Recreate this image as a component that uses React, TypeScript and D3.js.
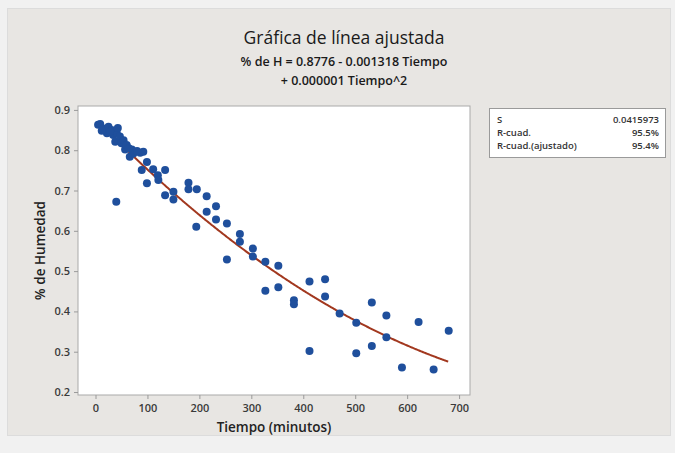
import React, { useEffect, useRef } from 'react';
import * as d3 from 'd3';

// Tiempo (minutos) and % de Humedad
const tiempo = [
  5, 9, 15, 22, 25, 31, 34, 38, 41, 43, 47, 50, 54, 57, 60, 66, 70, 73, 86, 92,
  99, 89, 111, 120, 134, 99, 121, 40, 134, 150, 150, 179, 179, 195, 194, 214,
  214, 232, 232, 253, 253, 278, 278, 303, 303, 327, 327, 352, 352, 382, 382,
  412, 412, 442, 442, 470, 502, 502, 532, 532, 560, 560, 590, 622, 651, 680,
  12, 28, 64, 80,
];
const humedad = [
  0.863, 0.865, 0.854, 0.842, 0.858, 0.85, 0.838, 0.821, 0.843, 0.855, 0.834,
  0.817, 0.825, 0.802, 0.813, 0.784, 0.802, 0.792, 0.794, 0.796, 0.771, 0.751,
  0.753, 0.738, 0.751, 0.718, 0.726, 0.672, 0.688, 0.697, 0.678, 0.719, 0.703,
  0.703, 0.61, 0.686, 0.647, 0.661, 0.628, 0.618, 0.529, 0.592, 0.573, 0.556,
  0.536, 0.523, 0.451, 0.513, 0.46, 0.428, 0.418, 0.474, 0.302, 0.48, 0.437,
  0.395, 0.372, 0.296, 0.422, 0.314, 0.39, 0.336, 0.261, 0.374, 0.256, 0.352,
  0.848, 0.846, 0.805, 0.798,
];

const xTicks = [0, 100, 200, 300, 400, 500, 600, 700];
const yTicks = [0.2, 0.3, 0.4, 0.5, 0.6, 0.7, 0.8, 0.9];

// fitted coefficients (shown rounded in the title)
const coef = [0.8776, -0.001318, 0.000000635];

const statLabels = ['S', 'R-cuad.', 'R-cuad.(ajustado)'];
const statValues = ['0.0415973', '95.5%', '95.4%'];

const FONT = "'Open Sans', 'Noto Sans', sans-serif";

export default function App() {
  const ref = useRef<SVGSVGElement>(null);

  useEffect(() => {
    const width = 675;
    const height = 453;
    const plot = { left: 78, right: 470, top: 106, bottom: 395 };

    const svg = d3.select(ref.current);
    svg.selectAll('*').remove();

    svg.append('rect').attr('width', width).attr('height', height).attr('fill', '#f1f1f1');
    svg
      .append('rect')
      .attr('x', 7.5)
      .attr('y', 8.5)
      .attr('width', 663)
      .attr('height', 427)
      .attr('fill', '#e8e6e3')
      .attr('stroke', '#dcdcdc');

    const x = d3.scaleLinear().domain([-33.7, 721]).range([plot.left, plot.right]);
    const y = d3.scaleLinear().domain([0.1926, 0.9097]).range([plot.bottom, plot.top]);

    svg
      .append('rect')
      .attr('x', plot.left)
      .attr('y', plot.top)
      .attr('width', plot.right - plot.left)
      .attr('height', plot.bottom - plot.top)
      .attr('fill', '#fff')
      .attr('stroke', '#a9a9a9');

    const xAxis = svg
      .append('g')
      .attr('transform', `translate(0,${plot.bottom})`)
      .call(d3.axisBottom(x).tickValues(xTicks).tickSize(4).tickSizeOuter(0).tickPadding(5));
    const yAxis = svg
      .append('g')
      .attr('transform', `translate(${plot.left},0)`)
      .call(
        d3
          .axisLeft(y)
          .tickValues(yTicks)
          .tickSize(4)
          .tickSizeOuter(0)
          .tickPadding(4)
          .tickFormat(d3.format('.1f'))
      );
    [xAxis, yAxis].forEach((g) => {
      g.select('.domain').remove();
      g.selectAll('line').attr('stroke', '#9a9a9a');
      g.selectAll('text')
        .attr('fill', '#3a3a3a')
        .style('font-family', FONT)
        .style('font-size', '11px')
        .style('font-weight', '600');
    });

    // fitted curve
    const t0 = d3.min(tiempo) as number;
    const t1 = d3.max(tiempo) as number;
    const curve = d3.range(t0, t1 + 1, 2).map((t) => [t, coef[0] + coef[1] * t + coef[2] * t * t]);
    svg
      .append('path')
      .datum(curve)
      .attr('fill', 'none')
      .attr('stroke', '#a2381f')
      .attr('stroke-width', 2)
      .attr(
        'd',
        d3
          .line<number[]>()
          .x((d) => x(d[0]))
          .y((d) => y(d[1]))
      );

    // points
    svg
      .append('g')
      .attr('fill', '#1f4f9c')
      .selectAll('circle')
      .data(tiempo)
      .join('circle')
      .attr('cx', (d) => x(d))
      .attr('cy', (d, i) => y(humedad[i]))
      .attr('r', 4);

    // titles
    const titles = [
      { text: 'Gráfica de línea ajustada', y: 44, size: 17.5, weight: 500 },
      { text: '% de H = 0.8776 - 0.001318 Tiempo', y: 66, size: 12.5, weight: 600 },
      { text: '+ 0.000001 Tiempo^2', y: 85, size: 12.5, weight: 600 },
    ];
    svg
      .append('g')
      .selectAll('text')
      .data(titles)
      .join('text')
      .attr('x', 344)
      .attr('y', (d) => d.y)
      .attr('text-anchor', 'middle')
      .attr('fill', '#1a1a1a')
      .style('font-family', FONT)
      .style('font-size', (d) => `${d.size}px`)
      .style('font-weight', (d) => d.weight)
      .text((d) => d.text);

    svg
      .append('text')
      .attr('x', 274)
      .attr('y', 432)
      .attr('text-anchor', 'middle')
      .attr('fill', '#222')
      .style('font-family', FONT)
      .style('font-size', '13.5px')
      .style('font-weight', '600')
      .text('Tiempo (minutos)');
    svg
      .append('text')
      .attr('transform', `translate(45,${(plot.top + plot.bottom) / 2}) rotate(-90)`)
      .attr('text-anchor', 'middle')
      .attr('fill', '#222')
      .style('font-family', FONT)
      .style('font-size', '13.5px')
      .style('font-weight', '600')
      .text('% de Humedad');

    // stats box
    const box = svg.append('g').attr('transform', 'translate(489,108)');
    box
      .append('rect')
      .attr('x', 0.5)
      .attr('y', 0.5)
      .attr('width', 176)
      .attr('height', 49)
      .attr('fill', '#fff')
      .attr('stroke', '#9a9a9a');
    statLabels.forEach((label, i) => {
      const row = box.append('g').attr('transform', `translate(0,${15 + i * 13})`);
      row
        .append('text')
        .attr('x', 8)
        .attr('fill', '#333')
        .style('font-family', FONT)
        .style('font-size', '9.5px')
        .style('font-weight', '600')
        .text(label);
      row
        .append('text')
        .attr('x', 170)
        .attr('text-anchor', 'end')
        .attr('fill', '#333')
        .style('font-family', FONT)
        .style('font-size', '9.5px')
        .style('font-weight', '600')
        .text(statValues[i]);
    });
  }, []);

  return (
    <div style={{ position: 'absolute', left: 0, top: 0 }}>
      <svg ref={ref} width={675} height={453} style={{ display: 'block' }} />
    </div>
  );
}
